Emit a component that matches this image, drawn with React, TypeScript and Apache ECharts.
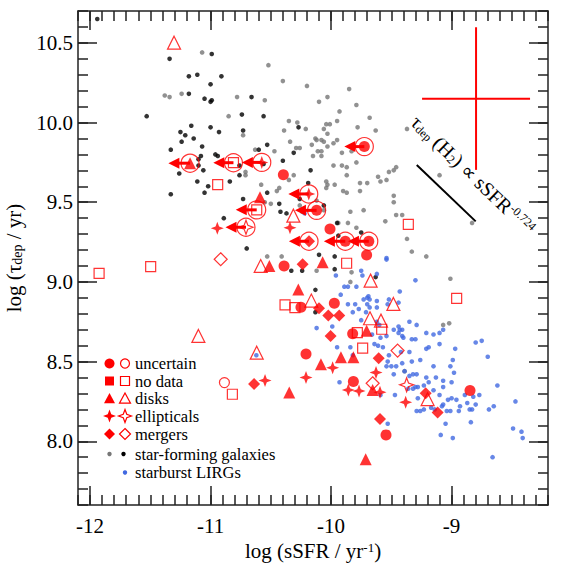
import React, { useEffect, useRef } from "react";
import * as echarts from "echarts";

const FONT = "Liberation Serif";
const RED = "#ff0000";

const X_MIN = -12.1;
const X_MAX = -8.2;
const Y_MIN = 7.6;
const Y_MAX = 10.7;
const xMajorTicks = [-12, -11, -10, -9];
const yMajorTicks = [8.0, 8.5, 9.0, 9.5, 10.0, 10.5];

// star-forming galaxies (grey sample)
const grayDots = [
  [-11.07, 10.44], [-11.38, 10.17], [-11.34, 10.16], [-11.24, 10.18], [-10.78, 10.16], [-10.55, 10.14],
  [-10.52, 10.36], [-10.40, 10.26], [-10.85, 10.04], [-10.35, 10.01], [-10.73, 9.92], [-10.39, 9.95],
  [-10.34, 9.88], [-10.63, 9.83], [-10.47, 9.82], [-10.71, 9.69], [-10.71, 9.67], [-10.31, 9.67],
  [-10.58, 9.61], [-10.50, 9.49], [-10.43, 9.59], [-10.45, 9.57], [-10.55, 9.50],
  [-10.20, 10.23], [-9.85, 10.21], [-10.10, 10.13], [-10.03, 10.16], [-9.79, 10.11], [-9.93, 10.07],
  [-9.68, 10.03], [-10.28, 10.00], [-10.04, 9.99], [-10.01, 9.99], [-9.95, 10.01], [-9.78, 9.97],
  [-9.63, 9.95], [-10.21, 9.96], [-10.06, 9.96], [-10.03, 9.93], [-10.13, 9.90], [-10.12, 9.89],
  [-10.08, 9.89], [-10.06, 9.88], [-9.95, 9.89], [-10.16, 9.86], [-9.98, 9.87], [-10.29, 9.84],
  [-10.26, 9.84], [-10.11, 9.82], [-10.08, 9.82], [-10.03, 9.85], [-10.15, 9.79], [-10.08, 9.79],
  [-9.91, 9.81], [-9.83, 9.82], [-9.98, 9.73], [-9.91, 9.73], [-9.87, 9.72], [-9.79, 9.75],
  [-9.46, 9.72], [-9.48, 9.70], [-9.52, 9.69], [-9.54, 9.64], [-9.59, 9.63], [-9.70, 9.62],
  [-9.76, 9.62], [-9.87, 9.67], [-10.35, 9.64], [-10.04, 9.63], [-10.03, 9.61], [-9.97, 9.61],
  [-10.04, 9.59], [-9.90, 9.57], [-9.87, 9.56], [-9.76, 9.57], [-9.48, 9.54], [-9.48, 9.50],
  [-9.55, 9.38], [-9.46, 9.42], [-9.41, 9.42], [-9.37, 9.27], [-9.33, 9.19], [-9.10, 9.67],
  [-8.83, 9.37], [-9.37, 9.96], [-9.73, 9.45], [-9.84, 9.44], [-9.94, 9.37], [-9.86, 9.37],
  [-9.79, 9.34], [-10.06, 9.45], [-10.24, 9.44], [-10.26, 9.48], [-9.61, 9.66], [-10.12, 9.51],
  [-9.21, 9.16], [-9.01, 9.02], [-9.07, 8.73], [-9.02, 8.74], [-9.84, 9.00], [-9.83, 9.06],
  [-10.12, 9.07], [-10.41, 9.16], [-9.39, 8.44], [-10.53, 9.16],
];

// star-forming galaxies (black sample)
const blackDots = [
  [-11.94, 10.65], [-11.34, 10.40], [-10.99, 10.43], [-11.18, 10.29], [-11.11, 10.30], [-10.91, 10.29],
  [-11.00, 10.24], [-11.18, 10.18], [-11.05, 10.15], [-10.99, 10.14], [-11.00, 10.13], [-10.66, 10.16],
  [-11.53, 10.04], [-10.74, 10.05], [-10.56, 10.04], [-11.16, 9.98], [-11.00, 9.97], [-10.93, 9.94],
  [-10.73, 9.95], [-11.25, 9.94], [-11.21, 9.92], [-11.14, 9.90], [-11.33, 9.83], [-11.24, 9.88],
  [-11.07, 9.85], [-10.53, 9.86], [-10.60, 9.83], [-10.96, 9.80], [-10.94, 9.79], [-11.08, 9.79],
  [-11.10, 9.77], [-10.31, 9.81], [-11.10, 9.73], [-11.06, 9.70], [-11.26, 9.68], [-10.76, 9.73],
  [-10.76, 9.67], [-10.56, 9.74], [-11.11, 9.63], [-11.02, 9.60], [-11.05, 9.56], [-10.84, 9.63],
  [-11.33, 9.55], [-10.53, 9.56], [-10.43, 9.49], [-10.42, 9.44], [-10.37, 9.43], [-10.73, 9.52],
  [-10.89, 9.40], [-10.70, 9.21], [-10.27, 9.97], [-10.40, 9.76],
  [-10.17, 9.70], [-10.19, 9.62], [-10.26, 9.52], [-10.06, 9.48], [-9.95, 9.37],
  [-10.33, 9.07], [-10.24, 9.07], [-10.13, 8.95], [-10.13, 8.81], [-9.97, 9.08], [-9.97, 9.16],
  [-10.10, 9.17], [-9.63, 9.03], [-9.75, 9.31], [-9.94, 9.29],
];

// starburst LIRGs
const blueDots = [
  [-9.54, 9.14], [-9.96, 9.04], [-9.92, 8.92], [-9.89, 8.97], [-9.86, 8.97], [-9.79, 8.97],
  [-9.75, 9.07], [-9.74, 9.04], [-9.62, 9.05], [-9.30, 9.01], [-9.43, 8.94], [-9.69, 8.91],
  [-9.68, 8.89], [-9.70, 8.90], [-9.73, 8.89], [-9.86, 8.86], [-9.80, 8.86], [-9.77, 8.83],
  [-9.62, 8.88], [-9.62, 8.84], [-9.52, 8.89], [-9.53, 8.86], [-9.44, 8.87], [-9.70, 8.86],
  [-9.68, 8.84], [-9.71, 8.81], [-9.82, 8.81], [-9.75, 8.76], [-10.12, 8.71], [-9.99, 8.72],
  [-9.62, 8.75], [-9.60, 8.73], [-9.35, 8.75], [-9.44, 8.72], [-9.29, 8.73], [-9.21, 8.68],
  [-9.15, 8.67], [-9.10, 8.68], [-9.07, 8.70], [-9.48, 8.70], [-9.43, 8.70], [-9.41, 8.70],
  [-9.44, 8.68], [-9.41, 8.66], [-9.40, 8.65], [-9.33, 8.64], [-9.30, 8.64], [-9.54, 8.66],
  [-9.66, 8.67], [-9.59, 8.65], [-9.61, 8.60], [-9.64, 8.61], [-9.57, 8.59], [-9.95, 8.59],
  [-9.84, 8.59], [-9.82, 8.54], [-9.52, 8.54], [-9.42, 8.56], [-9.35, 8.56], [-9.21, 8.58],
  [-9.19, 8.59], [-9.10, 8.61], [-8.97, 8.58], [-8.80, 8.62], [-8.75, 8.63], [-8.70, 8.53],
  [-9.53, 8.50], [-9.41, 8.49], [-9.33, 8.50], [-9.26, 8.51], [-9.46, 8.47], [-9.54, 8.47],
  [-9.50, 8.47], [-9.15, 8.47], [-9.01, 8.47], [-8.99, 8.51], [-9.39, 8.44], [-9.35, 8.41],
  [-9.48, 8.42], [-9.32, 8.42], [-9.29, 8.42], [-9.21, 8.40], [-9.13, 8.40], [-9.19, 8.37],
  [-9.07, 8.38], [-9.00, 8.37], [-9.93, 8.37], [-9.30, 8.34], [-9.32, 8.33], [-9.36, 8.33],
  [-9.28, 8.34], [-9.23, 8.35], [-9.15, 8.32], [-9.07, 8.34], [-8.98, 8.43], [-9.47, 8.29],
  [-9.59, 8.29], [-9.28, 8.27], [-9.10, 8.29], [-9.03, 8.26], [-9.00, 8.27], [-8.96, 8.26],
  [-8.89, 8.29], [-8.82, 8.28], [-8.77, 8.29], [-8.80, 8.23], [-8.87, 8.24], [-8.93, 8.22],
  [-8.85, 8.20], [-8.83, 8.20], [-8.94, 8.19], [-9.01, 8.19], [-9.04, 8.19], [-9.17, 8.21],
  [-9.08, 8.22], [-9.07, 8.23], [-9.14, 8.20], [-9.29, 8.19], [-9.26, 8.19], [-9.23, 8.20],
  [-8.69, 8.20], [-8.65, 8.22], [-8.62, 8.35], [-8.47, 8.25], [-8.84, 8.12], [-9.09, 8.04],
  [-8.99, 8.02], [-9.05, 8.11], [-8.49, 8.08], [-8.42, 8.06], [-8.41, 8.02], [-8.66, 7.90],
  [-9.53, 8.11], [-10.62, 8.54], [-9.54, 9.15], [-10.22, 9.43],
];

// red sample: filled = secure, open = other
const filledCircles = [
  [-10.396, 9.673], [-10.009, 9.332], [-9.705, 9.169], [-10.39, 9.10], [-10.25, 8.841], [-9.973, 8.866],
  [-9.821, 8.674], [-10.208, 8.548], [-9.815, 8.375], [-8.847, 8.318], [-9.544, 8.04],
  [-9.724, 9.849], [-10.12, 9.449], [-9.882, 9.255], [-9.687, 9.255],
];
const openCircles = [[-10.885, 8.368]];
const openSquares = [
  [-11.925, 9.054], [-11.497, 9.096], [-10.941, 9.61], [-9.359, 9.361], [-9.871, 9.117], [-8.958, 8.897],
  [-10.382, 8.856], [-10.30, 8.839], [-9.58, 8.703], [-9.782, 8.682], [-9.738, 8.584], [-10.819, 8.295],
  [-10.81, 9.748], [-10.617, 9.452],
];
const filledTriangles = [
  [-10.59, 9.531], [-10.512, 9.10], [-10.07, 9.123], [-10.272, 8.952], [-9.705, 8.694], [-9.918, 8.527],
  [-9.815, 8.527], [-10.084, 8.483], [-9.655, 8.322], [-10.347, 8.306], [-9.713, 7.887],
  [-11.17, 9.745],
];
const openTriangles = [
  [-11.303, 10.501], [-10.313, 9.416], [-10.584, 9.10], [-9.672, 9.008], [-10.164, 8.883], [-9.483, 8.862],
  [-9.677, 8.772], [-9.586, 8.757], [-11.101, 8.661], [-10.617, 8.556], [-9.199, 8.264],
];
const filledStars = [
  [-10.944, 9.337], [-10.341, 9.34], [-9.987, 8.462], [-9.627, 8.431], [-10.208, 8.40], [-9.857, 8.322],
  [-9.768, 8.316], [-9.594, 8.308], [-9.381, 8.245], [-10.548, 8.381],
  [-10.575, 9.75], [-10.185, 9.552],
];
const openStars = [[-9.373, 8.354], [-10.706, 9.343]];
const filledDiamonds = [
  [-10.236, 9.111], [-10.10, 8.835], [-10.023, 8.789], [-9.932, 8.789], [-10.004, 8.661], [-9.605, 8.521],
  [-9.215, 8.301], [-9.116, 8.18], [-9.594, 8.14], [-10.639, 8.36],
  [-10.183, 9.255],
];
const openDiamonds = [[-10.916, 9.142], [-9.448, 8.569], [-9.655, 8.364]];

// sSFR upper limits: [x, y, x of arrow tip]
const limitArrows = [
  [-11.17, 9.745, -11.35],
  [-10.81, 9.748, -10.977],
  [-10.575, 9.75, -10.74],
  [-9.724, 9.849, -9.89],
  [-10.185, 9.552, -10.355],
  [-10.12, 9.449, -10.3],
  [-10.617, 9.452, -10.791],
  [-10.706, 9.343, -10.876],
  [-10.183, 9.255, -10.35],
  [-9.882, 9.255, -10.06],
  [-9.687, 9.255, -9.86],
];

const errorBarH = [[-9.245, 10.15], [-8.349, 10.15]];
const errorBarV = [[-8.797, 9.703], [-8.797, 10.598]];
const slopeLine = [[-9.289, 9.734], [-8.8, 9.38]];

const STAR = "path://M0,-10L2.7,-2.7L10,0L2.7,2.7L0,10L-2.7,2.7L-10,0L-2.7,-2.7Z";

function minorList(lo: number, hi: number) {
  const out: number[] = [];
  for (let i = Math.round(lo * 10); i <= Math.round(hi * 10); i++) out.push(i / 10);
  return out;
}

export default function App() {
  const ref = useRef<HTMLDivElement>(null);
  useEffect(() => {
    if (!ref.current) return;
    const chart = echarts.init(ref.current, undefined, { renderer: "svg" });
    const lineStyle = { color: "#222", width: 1.5 };
    const xMinor = minorList(X_MIN, X_MAX);
    const yMinor = minorList(Y_MIN, Y_MAX);

    const xAx = (pos: string, ticks: number[], len: number, main: boolean, label: boolean) => ({
      type: "value",
      position: pos,
      min: X_MIN,
      max: X_MAX,
      gridIndex: 0,
      axisLine: { show: main, onZero: false, lineStyle },
      axisTick: { show: true, inside: true, length: len, customValues: ticks, lineStyle },
      axisLabel: label
        ? {
            show: true,
            customValues: ticks,
            formatter: (v: number) => String(Math.round(v)),
            fontFamily: FONT,
            fontSize: 21,
            color: "#000",
            margin: 10,
          }
        : { show: false },
      splitLine: { show: false },
      ...(label
        ? {
            name: "{a|log (sSFR / yr}{s|-1}{a|)}",
            nameLocation: "middle",
            nameGap: 27,
            nameTextStyle: {
              fontFamily: FONT,
              fontSize: 21,
              rich: {
                a: { fontFamily: FONT, fontSize: 21, color: "#000" },
                s: { fontFamily: FONT, fontSize: 13, color: "#000", verticalAlign: "top" },
              },
            },
          }
        : {}),
    });
    const yAx = (pos: string, ticks: number[], len: number, main: boolean, label: boolean) => ({
      type: "value",
      position: pos,
      min: Y_MIN,
      max: Y_MAX,
      gridIndex: 0,
      axisLine: { show: main, onZero: false, lineStyle },
      axisTick: { show: true, inside: true, length: len, customValues: ticks, lineStyle },
      axisLabel: label
        ? {
            show: true,
            customValues: ticks,
            formatter: (v: number) => v.toFixed(1),
            fontFamily: FONT,
            fontSize: 21,
            color: "#000",
            margin: 5,
          }
        : { show: false },
      splitLine: { show: false },
      ...(label
        ? {
            name: "{a|log (τ}{s|dep}{a| / yr)}",
            nameLocation: "middle",
            nameGap: 54,
            nameRotate: 90,
            nameTextStyle: {
              fontFamily: FONT,
              fontSize: 21,
              rich: {
                a: { fontFamily: FONT, fontSize: 21, color: "#000" },
                s: { fontFamily: FONT, fontSize: 14, color: "#000", verticalAlign: "bottom" },
              },
            },
          }
        : {}),
    });

    const scat = (data: number[][], symbol: string, size: number, filled: boolean, z: number, color = RED) => ({
      type: "scatter",
      data,
      symbol,
      symbolSize: size,
      xAxisIndex: 0,
      yAxisIndex: 0,
      z,
      silent: true,
      itemStyle: filled
        ? { color, borderWidth: 0 }
        : { color: "rgba(0,0,0,0)", borderColor: color, borderWidth: 1.2 },
    });

    const legendRows = [363.5, 381, 398.5, 416, 434, 454, 472.5];
    const fx = 109.5;
    const ox = 125;
    const tx = 135;
    const starPts = (cx: number, cy: number, rr: number) => {
      const k = rr * 0.27;
      return [
        [cx, cy - rr], [cx + k, cy - k], [cx + rr, cy], [cx + k, cy + k],
        [cx, cy + rr], [cx - k, cy + k], [cx - rr, cy], [cx - k, cy - k],
      ];
    };
    const diaPts = (cx: number, cy: number, rr: number) => [[cx, cy - rr], [cx + rr, cy], [cx, cy + rr], [cx - rr, cy]];
    const triPts = (cx: number, cy: number, rr: number) => [[cx, cy - rr], [cx + rr, cy + rr * 0.85], [cx - rr, cy + rr * 0.85]];
    const fill = { fill: RED };
    const hollow = { fill: "none", stroke: RED, lineWidth: 1.2 };
    const labels = ["uncertain", "no data", "disks", "ellipticals", "mergers", "star-forming galaxies", "starburst LIRGs"];
    const legend: any[] = [];
    const r = legendRows;
    legend.push({ type: "circle", shape: { cx: fx, cy: r[0], r: 5 }, style: fill });
    legend.push({ type: "circle", shape: { cx: ox, cy: r[0], r: 4.5 }, style: hollow });
    legend.push({ type: "rect", shape: { x: fx - 4.5, y: r[1] - 4.5, width: 9, height: 9 }, style: fill });
    legend.push({ type: "rect", shape: { x: ox - 4.5, y: r[1] - 4.5, width: 9, height: 9 }, style: hollow });
    legend.push({ type: "polygon", shape: { points: triPts(fx, r[2], 5.5) }, style: fill });
    legend.push({ type: "polygon", shape: { points: triPts(ox, r[2], 5.5) }, style: hollow });
    legend.push({ type: "polygon", shape: { points: starPts(fx, r[3], 6.5) }, style: fill });
    legend.push({ type: "polygon", shape: { points: starPts(ox, r[3], 6.5) }, style: hollow });
    legend.push({ type: "polygon", shape: { points: diaPts(fx, r[4], 5.5) }, style: fill });
    legend.push({ type: "polygon", shape: { points: diaPts(ox, r[4], 5.5) }, style: hollow });
    legend.push({ type: "circle", shape: { cx: fx, cy: r[5], r: 2.2 }, style: { fill: "#777" } });
    legend.push({ type: "circle", shape: { cx: 123.5, cy: r[5], r: 2.2 }, style: { fill: "#000" } });
    legend.push({ type: "circle", shape: { cx: ox, cy: r[6], r: 2.2 }, style: { fill: "#4169e1" } });
    labels.forEach((t, i) => {
      legend.push({
        type: "text",
        x: tx,
        y: r[i],
        style: {
          text: t,
          fontFamily: FONT,
          fontSize: 16.5,
          fill: "#000",
          verticalAlign: "middle",
          align: "left",
        },
      });
    });

    chart.setOption({
      animation: false,
      textStyle: { fontFamily: FONT },
      grid: { left: 78, right: 17, top: 11, bottom: 60, containLabel: false, outerBoundsMode: "none" },
      xAxis: [
        xAx("bottom", xMajorTicks, 19, true, true),
        xAx("bottom", xMinor, 10, false, false),
        xAx("top", xMajorTicks, 19, true, false),
        xAx("top", xMinor, 10, false, false),
      ],
      yAxis: [
        yAx("left", yMajorTicks, 19, true, true),
        yAx("left", yMinor, 10, false, false),
        yAx("right", yMajorTicks, 19, true, false),
        yAx("right", yMinor, 10, false, false),
      ],
      series: [
        scat(grayDots, "circle", 4.6, true, 1, "#767676"),
        scat(blackDots, "circle", 4.6, true, 1, "#000"),
        scat(blueDots, "circle", 4.6, true, 1, "#4169e1"),
        {
          type: "custom",
          xAxisIndex: 0,
          yAxisIndex: 0,
          z: 2,
          silent: true,
          data: limitArrows,
          encode: { x: 0, y: 1 },
          renderItem: (_p: any, api: any) => {
            const a = api.coord([api.value(0), api.value(1)]);
            const b = api.coord([api.value(2), api.value(1)]);
            return {
              type: "group",
              children: [
                { type: "line", shape: { x1: a[0], y1: a[1], x2: b[0] + 8, y2: b[1] }, style: { stroke: RED, lineWidth: 3 } },
                {
                  type: "polygon",
                  shape: { points: [[b[0], b[1]], [b[0] + 11, b[1] - 5.5], [b[0] + 11, b[1] + 5.5]] },
                  style: { fill: RED },
                },
              ],
            };
          },
        },
        scat(filledCircles, "circle", 11, true, 3),
        scat(openCircles, "circle", 10, false, 3),
        scat(openSquares, "rect", 10, false, 3),
        scat(filledTriangles, "triangle", 12, true, 3),
        scat(openTriangles, "triangle", 13, false, 3),
        scat(filledStars, STAR, 13, true, 3),
        scat(openStars, STAR, 14, false, 3),
        scat(filledDiamonds, "diamond", 12, true, 3),
        scat(openDiamonds, "diamond", 13, false, 3),
        scat(limitArrows.map((d) => [d[0], d[1]]), "circle", 18, false, 4),
        {
          type: "line", data: errorBarH, symbol: "none", silent: true, z: 2,
          lineStyle: { color: RED, width: 2 }, xAxisIndex: 0, yAxisIndex: 0,
        },
        {
          type: "line", data: errorBarV, symbol: "none", silent: true, z: 2,
          lineStyle: { color: RED, width: 2 }, xAxisIndex: 0, yAxisIndex: 0,
        },
        {
          type: "line", data: slopeLine, symbol: "none", silent: true, z: 2,
          lineStyle: { color: "#000", width: 2 }, xAxisIndex: 0, yAxisIndex: 0,
        },
      ],
      graphic: [
        ...legend,
        {
          type: "text",
          x: 473,
          y: 175,
          rotation: (-43.8 * Math.PI) / 180,
          style: {
            text: "{a|τ}{s|dep}{a| (H}{s|2}{a|) ∝ sSFR}{p|-0.724}",
            fontFamily: FONT,
            fontSize: 20,
            align: "center",
            verticalAlign: "middle",
            rich: {
              a: { fontFamily: FONT, fontSize: 20, fill: "#000" },
              s: { fontFamily: FONT, fontSize: 12, fill: "#000", verticalAlign: "bottom" },
              p: { fontFamily: FONT, fontSize: 12, fill: "#000", verticalAlign: "top" },
            },
          },
        },
      ],
    });
    return () => chart.dispose();
  }, []);
  return <div ref={ref} style={{ position: "absolute", left: 0, top: 0, width: 565, height: 565 }} />;
}
